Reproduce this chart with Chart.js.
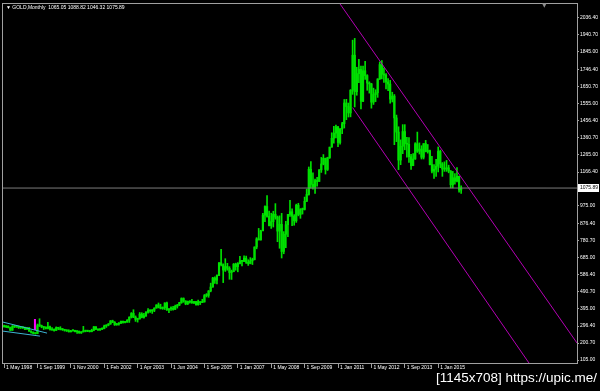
<!DOCTYPE html>
<html>
<head>
<meta charset="utf-8">
<script src="https://cdn.jsdelivr.net/npm/chart.js@4.4.1/dist/chart.umd.min.js"></script>
<style>
  html, body { margin: 0; padding: 0; background: #000; }
  #wrap { position: relative; width: 600px; height: 391px; overflow: hidden; }
  #goldChart { display: block; }
  #header { position: absolute; left: 6px; top: 4px; color: #fff; font: 5px 'Liberation Sans'; white-space: pre; }
  #shift { position: absolute; left: 542px; top: 1px; color: #8c8c8c; font: 6px 'DejaVu Sans'; }
  #stamp { position: absolute; right: 3px; top: 370px; color: #fff; font: 13.5px 'Liberation Sans'; white-space: pre; }
</style>
</head>
<body>
<div id="wrap">
  <canvas id="goldChart" width="600" height="391"></canvas>
  <div id="header">▼ GOLD,Monthly  1065.05 1088.82 1046.32 1075.89</div>
  <div id="shift">▼</div>
  <div id="stamp">[1145x708] https://upic.me/</div>
</div>
<script>
// tick labels along the bottom, one every 16 bars
const tickDates = ['1 May 1998', '1 Sep 1999', '1 Nov 2000', '1 Feb 2002', '1 Apr 2003', '1 Jun 2004',
    '1 Sep 2005', '1 Jan 2007', '1 May 2008', '1 Sep 2009', '1 Jan 2011', '1 May 2012', '1 Sep 2013', '1 Jan 2015'];
const tickBars = [0, 16, 32, 48, 64, 80, 96, 112, 128, 144, 160, 176, 192, 208];

// price scale labels on the right
const priceTicks = [105.00, 200.70, 296.40, 395.00, 490.70, 586.40, 685.00, 780.70, 876.40, 975.00,
    1166.40, 1265.00, 1360.70, 1456.40, 1555.00, 1650.70, 1746.40, 1845.00, 1940.70, 2036.40];
const lastPrice = 1075.89;
const firstOpen = 296;

// monthly bars
const highs = [
    302, 298, 298, 291, 300, 301, 300, 297,
    293, 292, 291, 290, 290, 270, 264, 259, 308, 338, 302, 292,
    293, 318, 296, 288, 281, 292, 290, 293, 283, 277, 275, 276, 273, 276,
    273, 270, 269, 265, 295, 274, 272, 272, 279, 294, 293, 280, 282,
    287, 302, 304, 311, 328, 330, 322, 312, 317, 325, 325, 323, 333, 349,
    373, 389, 354, 341, 373, 372, 368, 378, 395, 389, 390, 400, 417,
    427, 420, 405, 428, 432, 396, 405, 408, 415, 419, 431, 456, 456,
    440, 438, 440, 448, 437, 436, 443, 433, 448, 475, 480, 497, 539,
    572, 574, 586, 655, 730, 648, 677, 651, 632, 613, 650, 652,
    655, 690, 668, 693, 692, 671, 683, 680, 744, 796, 848, 838,
    933, 975, 1033, 946, 934, 945, 988, 918, 919, 933, 830, 888,
    928, 1006, 958, 926, 985, 990, 960, 963, 1025, 1070, 1195, 1226,
    1162, 1127, 1137, 1180, 1249, 1265, 1245, 1250, 1307, 1388, 1424, 1431,
    1424, 1412, 1447, 1576, 1577, 1556, 1632, 1911, 1921, 1758, 1803, 1764,
    1764, 1791, 1716, 1676, 1667, 1640, 1631, 1693, 1788, 1796, 1755, 1723,
    1694, 1684, 1617, 1604, 1488, 1422, 1348, 1434, 1434, 1362, 1361, 1267,
    1270, 1332, 1392, 1331, 1315, 1326, 1345, 1322, 1290, 1255, 1208, 1238,
    1308, 1290, 1220, 1224, 1232, 1205, 1175, 1170, 1157, 1191, 1143, 1088.82
];
const lows = [
    290, 288, 286, 271, 273, 288, 289, 283,
    283, 283, 276, 278, 267, 257, 252, 251, 253, 294, 287, 277,
    280, 280, 274, 273, 268, 272, 276, 275, 272, 268, 266, 263, 263, 268,
    263, 255, 256, 255, 263, 264, 265, 263, 264, 270, 277, 272, 272,
    277, 281, 289, 298, 307, 316, 300, 301, 302, 311, 313, 314, 318, 317,
    342, 344, 323, 319, 336, 343, 341, 351, 370, 374, 368, 378, 398,
    399, 393, 391, 390, 385, 372, 385, 387, 390, 398, 412, 425, 431,
    417, 418, 426, 425, 423, 414, 414, 418, 429, 432, 461, 459, 490,
    516, 538, 535, 581, 636, 542, 605, 612, 561, 560, 603, 612,
    603, 648, 636, 660, 650, 639, 648, 644, 670, 733, 783, 782,
    835, 886, 911, 862, 848, 856, 900, 773, 736, 681, 705, 739,
    802, 916, 864, 866, 882, 919, 905, 929, 952, 1000, 1036, 1075,
    1070, 1045, 1087, 1114, 1164, 1207, 1155, 1175, 1243, 1307, 1329, 1359,
    1309, 1324, 1383, 1415, 1462, 1477, 1478, 1605, 1534, 1600, 1671, 1523,
    1563, 1690, 1628, 1612, 1527, 1548, 1564, 1588, 1689, 1692, 1672, 1635,
    1626, 1555, 1562, 1321, 1338, 1180, 1208, 1270, 1292, 1251, 1221, 1181,
    1202, 1238, 1277, 1268, 1240, 1240, 1280, 1273, 1206, 1161, 1131, 1142,
    1167, 1191, 1142, 1170, 1170, 1162, 1077, 1077, 1098, 1111, 1052, 1046.32
];
const closes = [
    293, 296, 288, 273, 294, 292, 294, 288,
    287, 287, 279, 286, 268, 262, 255, 254, 299, 299, 292, 289,
    283, 293, 277, 274, 272, 288, 284, 276, 278, 273, 270, 264, 270, 273,
    265, 267, 258, 264, 267, 270, 268, 265, 273, 293, 279, 275, 279,
    282, 297, 302, 308, 326, 318, 304, 308, 312, 324, 317, 319, 330, 347,
    368, 347, 334, 337, 364, 346, 354, 375, 385, 382, 386, 398, 416,
    403, 396, 400, 427, 388, 394, 395, 391, 408, 415, 429, 452, 438,
    422, 436, 432, 429, 435, 417, 435, 429, 433, 469, 470, 495, 517,
    568, 556, 582, 654, 643, 613, 633, 623, 599, 604, 646, 632,
    650, 665, 662, 680, 657, 650, 665, 672, 743, 789, 783, 834,
    923, 972, 916, 864, 886, 928, 912, 833, 871, 718, 815, 869,
    927, 942, 917, 891, 979, 927, 955, 955, 1001, 1040, 1182, 1097,
    1081, 1118, 1113, 1179, 1212, 1244, 1181, 1248, 1307, 1357, 1386, 1421,
    1333, 1410, 1439, 1556, 1536, 1500, 1628, 1826, 1620, 1722, 1746, 1566,
    1738, 1711, 1669, 1664, 1561, 1604, 1614, 1692, 1773, 1719, 1714, 1675,
    1663, 1578, 1595, 1472, 1392, 1234, 1312, 1395, 1327, 1323, 1253, 1202,
    1240, 1326, 1284, 1296, 1250, 1327, 1282, 1287, 1208, 1171, 1182, 1199,
    1283, 1212, 1183, 1183, 1190, 1172, 1095, 1134, 1115, 1142, 1065.05, 1075.89
];

// objects drawn on the chart (bar index, price)
const upperChannel = [{ x: 161, y: 2115 }, { x: 274.5, y: 201 }];
const lowerChannel = [{ x: 167, y: 1530 }, { x: 251.5, y: 88 }];
const cyanUpper = [{ x: -0.5, y: 319 }, { x: 20.6, y: 257 }];
const cyanLower = [{ x: -0.5, y: 268 }, { x: 17.2, y: 240 }];
const markerLine = [{ x: 14.8, y: 336 }, { x: 14.8, y: 274 }];

const opens = closes.map((c, i) => i === 0 ? firstOpen : closes[i - 1]);
const wicks = highs.map((h, i) => ({ x: i, y: [lows[i], h] }));
const bodies = closes.map((c, i) => ({ x: i, y: [opens[i], c] }));

const lineSet = (data, color, width) => ({
    type: 'line',
    data: data,
    borderColor: color,
    borderWidth: width,
    pointRadius: 0,
    tension: 0,
    fill: false
});

const framePlugin = {
    id: 'frame',
    afterDraw(chart) {
        const { ctx, chartArea: a } = chart;
        ctx.save();
        ctx.strokeStyle = '#a0a0a0';
        ctx.lineWidth = 1;
        ctx.strokeRect(a.left - 0.5, a.top - 0.5, a.right - a.left + 1, a.bottom - a.top + 1);

        // current price box on the right scale
        const y = chart.scales.y.getPixelForValue(lastPrice);
        ctx.fillStyle = '#fff';
        ctx.fillRect(a.right + 1, Math.round(y) - 4, 21, 8);
        ctx.fillStyle = '#000';
        ctx.font = '5px "Liberation Sans"';
        ctx.textBaseline = 'middle';
        ctx.fillText(lastPrice.toFixed(2), a.right + 3, y);
        ctx.restore();
    }
};

Chart.defaults.font.family = '"Liberation Sans"';
Chart.defaults.color = '#fff';

new Chart(document.getElementById('goldChart'), {
    type: 'bar',
    data: {
        datasets: [
            lineSet([{ x: -0.5, y: lastPrice }, { x: 274.5, y: lastPrice }], '#7c7c7c', 1),
            lineSet(upperChannel, '#b400b4', 1),
            lineSet(lowerChannel, '#b400b4', 1),
            lineSet(cyanUpper, '#3cb4d2', 1),
            lineSet(cyanLower, '#3cb4d2', 1),
            lineSet(markerLine, '#ff00ff', 2),
            {
                data: wicks,
                backgroundColor: '#00e000',
                barThickness: 1,
                grouped: false
            },
            {
                data: bodies,
                backgroundColor: '#00f000',
                barThickness: 1.5,
                minBarLength: 1,
                grouped: false
            }
        ]
    },
    options: {
        responsive: false,
        animation: false,
        events: [],
        devicePixelRatio: 1,
        layout: { padding: { left: 3, top: 3, right: 0, bottom: 0 } },
        plugins: {
            legend: { display: false },
            tooltip: { enabled: false }
        },
        scales: {
            x: {
                type: 'linear',
                min: -0.5,
                max: 274.5,
                offset: false,
                afterBuildTicks: (axis) => { axis.ticks = tickBars.map(v => ({ value: v })); },
                afterFit: (axis) => { axis.height = 28; },
                ticks: {
                    callback: (v, i) => tickDates[i],
                    align: 'start',
                    labelOffset: 2,
                    maxRotation: 0,
                    autoSkip: false,
                    padding: -3,
                    font: { size: 5 },
                    color: '#fff'
                },
                grid: { drawOnChartArea: false, offset: false, tickLength: 5, color: '#a0a0a0' },
                border: { color: '#a0a0a0' }
            },
            y: {
                type: 'linear',
                position: 'right',
                min: 88.1,
                max: 2115.2,
                afterBuildTicks: (axis) => { axis.ticks = priceTicks.map(v => ({ value: v })); },
                afterFit: (axis) => { axis.width = 23; },
                ticks: {
                    callback: (v) => v.toFixed(2),
                    padding: 1,
                    autoSkip: false,
                    font: { size: 5 },
                    color: '#fff'
                },
                grid: { drawOnChartArea: false, offset: false, tickLength: 2, color: '#a0a0a0' },
                border: { color: '#a0a0a0' }
            }
        }
    },
    plugins: [framePlugin]
});
</script>
</body>
</html>
